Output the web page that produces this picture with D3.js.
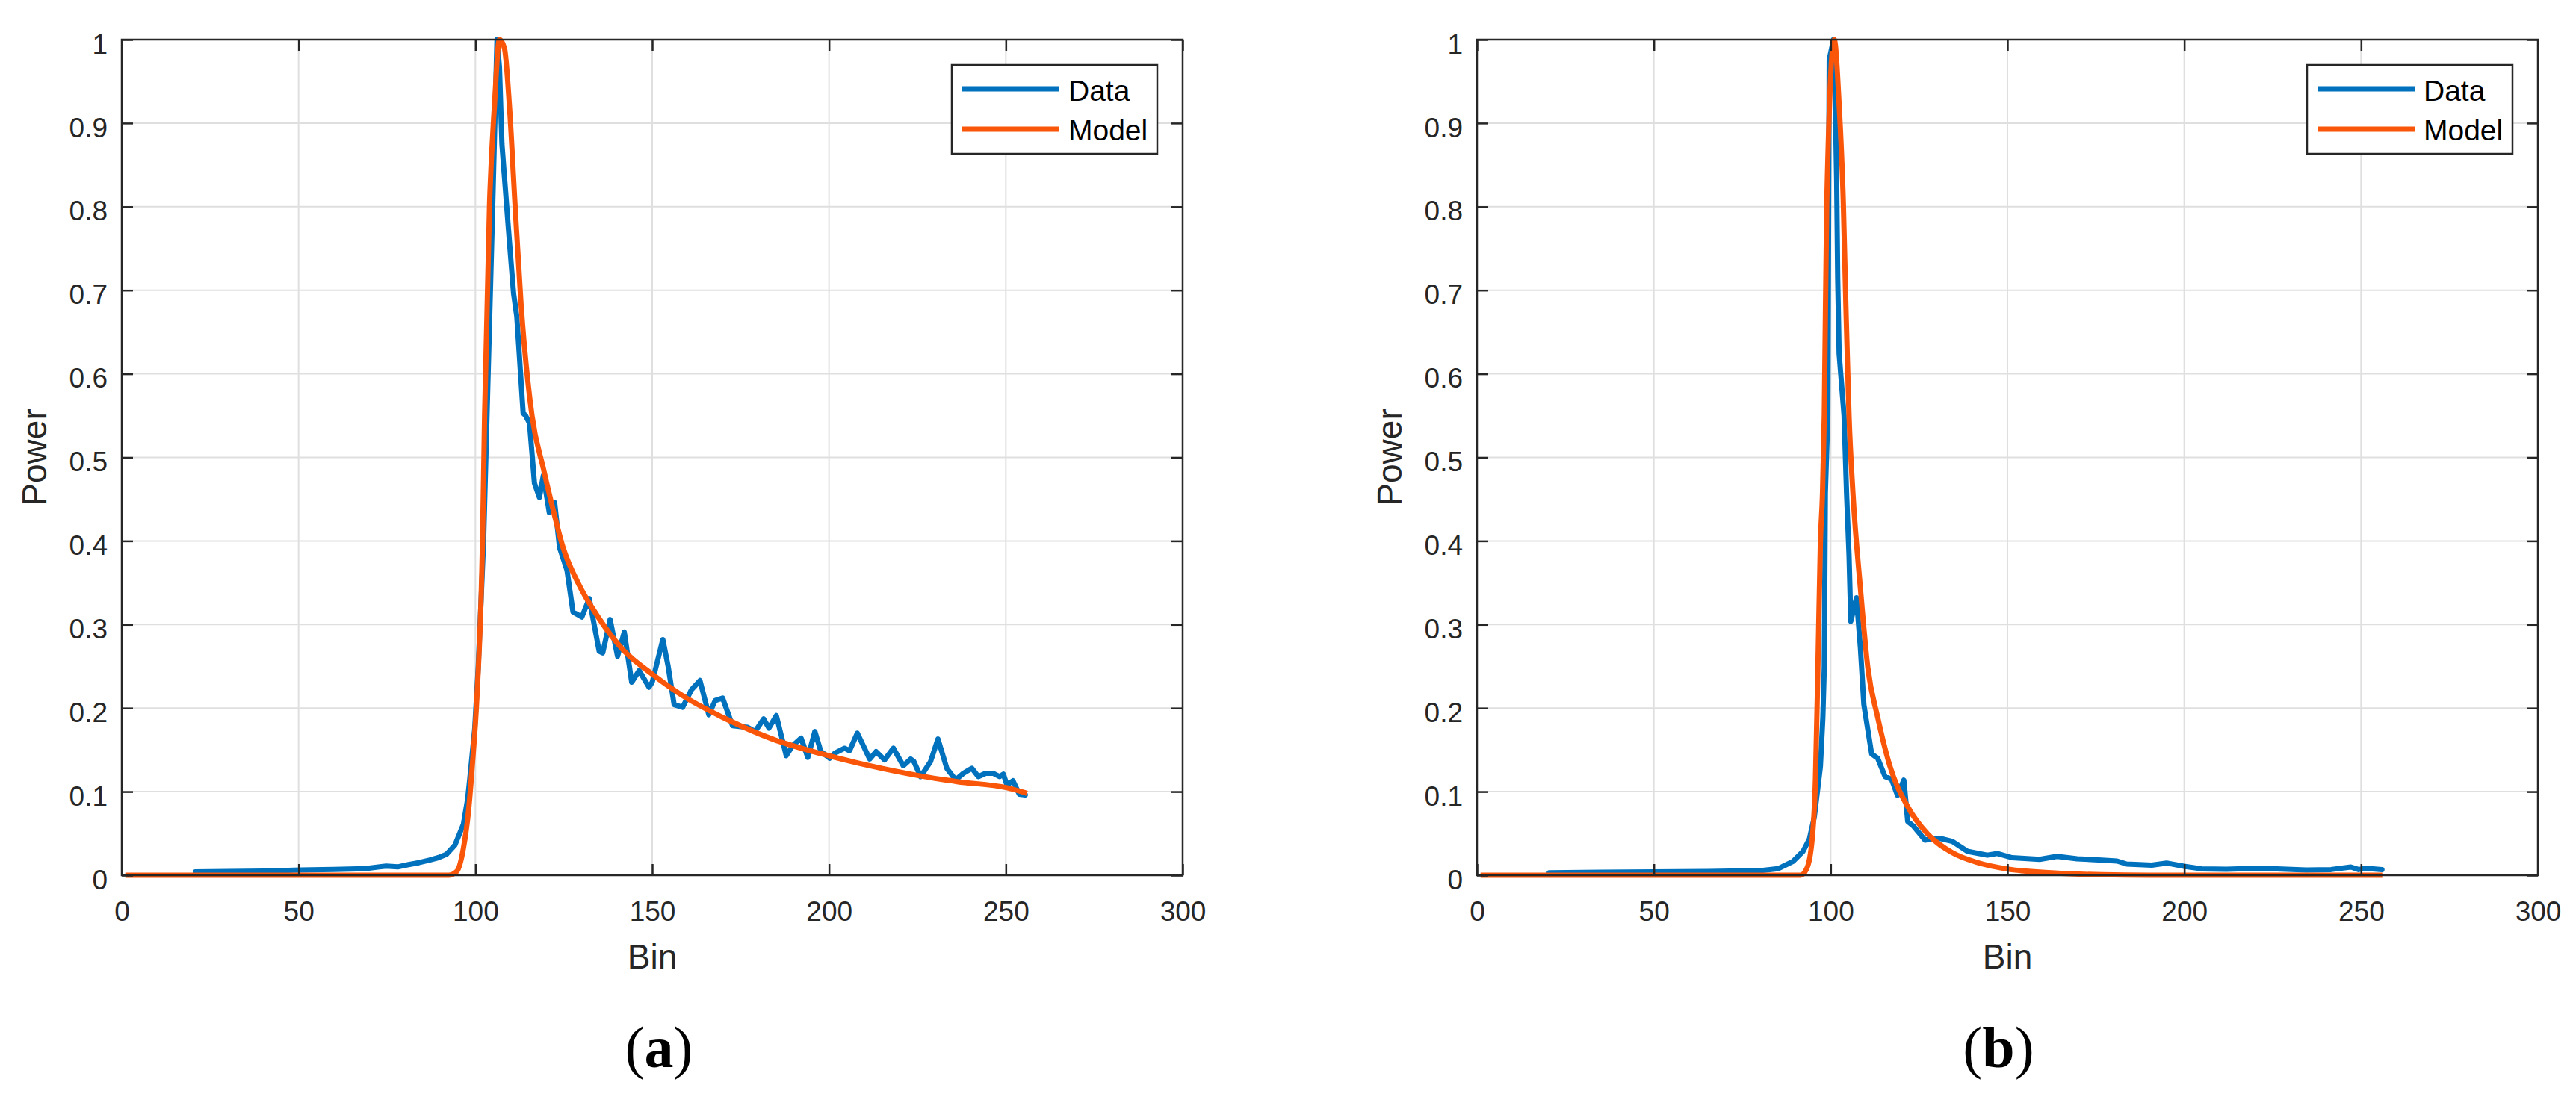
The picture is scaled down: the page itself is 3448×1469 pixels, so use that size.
<!DOCTYPE html>
<html>
<head>
<meta charset="utf-8">
<script src="https://cdn.jsdelivr.net/npm/d3@7"></script>
<style>
  html, body { margin: 0; padding: 0; background: #fff; }
  svg { display: block; }
  text { font-family: "Liberation Sans", Arial, Helvetica, sans-serif; fill: #262626; }
</style>
</head>
<body>
<svg id="chart" width="3448" height="1469"></svg>
<script>
// ticks
xTicks = [0, 50, 100, 150, 200, 250, 300];
yTicks = [0, 0.1, 0.2, 0.3, 0.4, 0.5, 0.6, 0.7, 0.8, 0.9, 1];
yTickLabels = ['0', '0.1', '0.2', '0.3', '0.4', '0.5', '0.6', '0.7', '0.8', '0.9', '1'];

seriesNames = ['Data', 'Model'];
seriesColors = ['#0072bd', '#fa560a'];
panelTags = ['a', 'b'];

// panel (a) - measured data
binA_data = [20.8, 30, 40, 50.5, 60, 68.7, 74.8, 78, 80.8, 84, 86.9, 89.5, 91.8, 94.2, 96.6, 97.8, 98.4, 99.8,
    100.8, 102.3, 103.3, 104.9, 106.1, 106.8, 107.5, 109.6, 110.8, 111.7, 113.5, 114.2, 115.3, 116.7, 118.1,
    119.2, 120.9, 122.4, 123.8, 125.9, 127.6, 130.1, 132.2, 135, 136, 138.1, 140.2, 142.1, 144.2, 146.3,
    149.1, 150, 153, 154.5, 156.2, 158.6, 161.1, 163.5, 166, 167.8, 169.9, 172.7, 177, 179.1, 181.5, 183,
    185.1, 187.9, 189.7, 192.1, 194, 196, 197.7, 200.2, 201.6, 204.4, 205.8, 208, 211.5, 213.3, 215.7,
    218.2, 221, 223.1, 224, 225.9, 228.7, 230.8, 233.3, 235.8, 238, 240.4, 242.2, 244.3, 246.4, 248.2,
    249.3, 250.3, 252, 253.8, 255.5];
powA_data = [0.004, 0.0045, 0.005, 0.0063, 0.007, 0.0078, 0.011, 0.010, 0.0125, 0.015, 0.018, 0.021, 0.025,
    0.036, 0.061, 0.091, 0.115, 0.175, 0.249, 0.398, 0.553, 0.803, 1.0, 0.967, 0.875, 0.759, 0.696, 0.669,
    0.553, 0.550, 0.541, 0.469, 0.452, 0.478, 0.434, 0.446, 0.392, 0.365, 0.315, 0.309, 0.331, 0.268, 0.266,
    0.306, 0.262, 0.291, 0.231, 0.245, 0.225, 0.231, 0.282, 0.25, 0.204, 0.201, 0.222, 0.233, 0.192, 0.209,
    0.212, 0.179, 0.177, 0.172, 0.187, 0.176, 0.191, 0.143, 0.155, 0.164, 0.141, 0.172, 0.148, 0.140,
    0.146, 0.152, 0.149, 0.170, 0.139, 0.148, 0.138, 0.152, 0.131, 0.139, 0.136, 0.118, 0.136, 0.163,
    0.128, 0.114, 0.122, 0.128, 0.118, 0.122, 0.122, 0.118, 0.121, 0.108, 0.113, 0.097, 0.096];

// panel (a) - model
binA_model = [1, 92.4, 94.8, 96.6, 98.1, 99.1, 100.5, 102, 102.6, 104, 105.4, 106.8, 108.2, 109.6, 111.2,
    112.9, 116, 119.2, 122, 124.8, 129, 134.7, 141.7, 150.2, 159.3, 169.9, 184, 198.1, 211.5, 225.6,
    236.2, 250.3, 256];
powA_model = [0, 0, 0.005, 0.032, 0.079, 0.13, 0.219, 0.398, 0.55, 0.803, 0.922, 1.0, 0.99, 0.922, 0.803,
    0.684, 0.55, 0.487, 0.437, 0.392, 0.350, 0.309, 0.270, 0.240, 0.213, 0.189, 0.163, 0.145, 0.131,
    0.119, 0.112, 0.1046, 0.098];

// panel (b) - measured data
binB_data = [20.4, 35, 50, 65, 80.4, 85.1, 89.4, 92.2, 94, 95.4, 97.1, 97.8, 98.2, 98.5, 99.2, 99.6, 100.8,
    101.2, 101.7, 102, 102.4, 103.8, 104.5, 105.2, 105.7, 107.3, 108.4, 109.4, 111.6, 113.3, 115.4, 117.2,
    118.9, 120.7, 121.8, 123.5, 126.7, 128.8, 131, 134.4, 138.7, 144.3, 147.1, 151.3, 159.1, 164, 169.7,
    176.7, 181, 183.7, 190.8, 195, 199.9, 204.9, 211.9, 220.4, 226, 234.5, 241.5, 247.1, 249.3, 251.4, 255.9];
powB_data = [0.003, 0.0035, 0.004, 0.0045, 0.0055, 0.0078, 0.0167, 0.0286, 0.0435, 0.07, 0.130, 0.189, 0.249,
    0.4575, 0.55, 0.976, 1.0, 0.952, 0.833, 0.714, 0.624, 0.55, 0.4575, 0.383, 0.304, 0.332, 0.273, 0.204,
    0.145, 0.140, 0.118, 0.115, 0.0956, 0.1138, 0.0643, 0.0584, 0.042, 0.0435, 0.044, 0.0405, 0.0286, 0.024,
    0.026, 0.021, 0.019, 0.0226, 0.0197, 0.018, 0.017, 0.0134, 0.012, 0.0146, 0.0107, 0.0077, 0.0071,
    0.0083, 0.0077, 0.0062, 0.0068, 0.0098, 0.0068, 0.0083, 0.0068];

// panel (b) - model
binB_model = [1, 91.5, 93.2, 94.7, 95.7, 96.4, 97.1, 97.7, 98.2, 98.9, 101, 102.4, 103.6, 104.3, 105.2, 106.3,
    108.4, 110.5, 113.3, 116.8, 121.8, 127.4, 134.4, 141.5, 149.9, 162.6, 176.7, 190, 256];
powB_model = [0, 0, 0.0075, 0.040, 0.115, 0.249, 0.398, 0.4575, 0.55, 0.803, 1.0, 0.922, 0.803, 0.684, 0.55,
    0.4575, 0.344, 0.249, 0.189, 0.130, 0.082, 0.0494, 0.027, 0.0152, 0.0075, 0.003, 0.0006, 0, 0];

svg = d3.select('#chart');

plotTop = 53;
plotBottom = 1172;
plotW = 1420;
ink = '#262626';

function drawPanel(left, dBins, dPow, mBins, mPow, tag, tagShift) {
    x = d3.scaleLinear().domain([0, 300]).range([left, left + plotW]);
    y = d3.scaleLinear().domain([0, 1]).range([plotBottom, plotTop]);

    panel = svg.append('g');

    // grid
    panel.append('g')
        .selectAll('line')
        .data(xTicks)
        .enter()
        .append('line')
        .attr('x1', (d) => x(d))
        .attr('x2', (d) => x(d))
        .attr('y1', plotTop)
        .attr('y2', plotBottom)
        .attr('stroke', '#dfdfdf')
        .attr('stroke-width', 2);

    panel.append('g')
        .selectAll('line')
        .data(yTicks)
        .enter()
        .append('line')
        .attr('x1', left)
        .attr('x2', left + plotW)
        .attr('y1', (d) => y(d))
        .attr('y2', (d) => y(d))
        .attr('stroke', '#dfdfdf')
        .attr('stroke-width', 2);

    // curves
    dataLine = d3.line()
        .x((d) => x(d[0]))
        .y((d) => y(d[1]))
        .curve(d3.curveLinear);

    modelLine = d3.line()
        .x((d) => x(d[0]))
        .y((d) => y(d[1]))
        .curve(d3.curveMonotoneX);

    panel.append('path')
        .datum(d3.zip(dBins, dPow))
        .attr('d', dataLine)
        .attr('fill', 'none')
        .attr('stroke', seriesColors[0])
        .attr('stroke-width', 7)
        .attr('stroke-linejoin', 'round')
        .attr('stroke-linecap', 'round');

    panel.append('path')
        .datum(d3.zip(mBins, mPow))
        .attr('d', modelLine)
        .attr('fill', 'none')
        .attr('stroke', seriesColors[1])
        .attr('stroke-width', 7)
        .attr('stroke-linejoin', 'round');

    // axes (ticks point inward, like matlab's box)
    bottomAxis = panel.append('g')
        .attr('transform', `translate(0, ${plotBottom})`)
        .attr('color', ink)
        .style('font-size', '37px')
        .call(d3.axisBottom(x).tickValues(xTicks).tickSizeInner(-15).tickSizeOuter(0).tickPadding(35));

    leftAxis = panel.append('g')
        .attr('transform', `translate(${left}, 0)`)
        .attr('color', ink)
        .style('font-size', '37px')
        .call(d3.axisLeft(y).tickValues(yTicks).tickFormat((d, i) => yTickLabels[i])
            .tickSizeInner(-15).tickSizeOuter(0).tickPadding(19));
    leftAxis.selectAll('text').attr('dy', '0.49em');

    panel.append('g')
        .attr('transform', `translate(0, ${plotTop})`)
        .attr('color', ink)
        .call(d3.axisTop(x).tickValues(xTicks).tickSizeInner(-15).tickSizeOuter(0).tickFormat(''));

    panel.append('g')
        .attr('transform', `translate(${left + plotW}, 0)`)
        .attr('color', ink)
        .call(d3.axisRight(y).tickValues(yTicks).tickSizeInner(-15).tickSizeOuter(0).tickFormat(''));

    panel.selectAll('.domain').remove();
    panel.selectAll('.tick line').attr('stroke-width', 2.5);
    panel.selectAll('.tick text').attr('font-family', null).attr('font-size', null);

    panel.append('rect')
        .attr('x', left)
        .attr('y', plotTop)
        .attr('width', plotW)
        .attr('height', plotBottom - plotTop)
        .attr('fill', 'none')
        .attr('stroke', ink)
        .attr('stroke-width', 2.5);

    // axis labels
    panel.append('text')
        .attr('x', left + plotW / 2)
        .attr('y', 1297)
        .attr('text-anchor', 'middle')
        .style('font-size', '46px')
        .text('Bin');

    panel.append('text')
        .attr('transform', `translate(${left - 101}, ${(plotTop + plotBottom) / 2}) rotate(-90)`)
        .attr('text-anchor', 'middle')
        .style('font-size', '46px')
        .text('Power');

    // legend
    legend = panel.append('g')
        .attr('transform', `translate(${left + plotW - 34 - 275}, ${plotTop + 34})`);

    legend.append('rect')
        .attr('width', 275)
        .attr('height', 119)
        .attr('fill', '#fff')
        .attr('stroke', ink)
        .attr('stroke-width', 2.5);

    seriesNames.forEach((name, i) => {
        legend.append('line')
            .attr('x1', 14)
            .attr('x2', 144)
            .attr('y1', 32 + i * 54)
            .attr('y2', 32 + i * 54)
            .attr('stroke', seriesColors[i])
            .attr('stroke-width', 7);
        legend.append('text')
            .attr('x', 156)
            .attr('y', 48 + i * 53)
            .style('font-size', '39px')
            .style('fill', '#000')
            .text(name);
    });

    // sub-figure tag
    tagText = panel.append('text')
        .attr('x', left + plotW / 2 + tagShift)
        .attr('y', 1429)
        .attr('text-anchor', 'middle')
        .style('font-family', '"Liberation Serif", "Times New Roman", serif')
        .style('font-size', '78px')
        .style('fill', '#000');
    tagText.append('tspan').text('(');
    tagText.append('tspan').style('font-weight', 'bold').text(tag);
    tagText.append('tspan').text(')');
}

drawPanel(163, binA_data, powA_data, binA_model, powA_model, panelTags[0], 9);
drawPanel(1977, binB_data, powB_data, binB_model, powB_model, panelTags[1], -12);
</script>
</body>
</html>
